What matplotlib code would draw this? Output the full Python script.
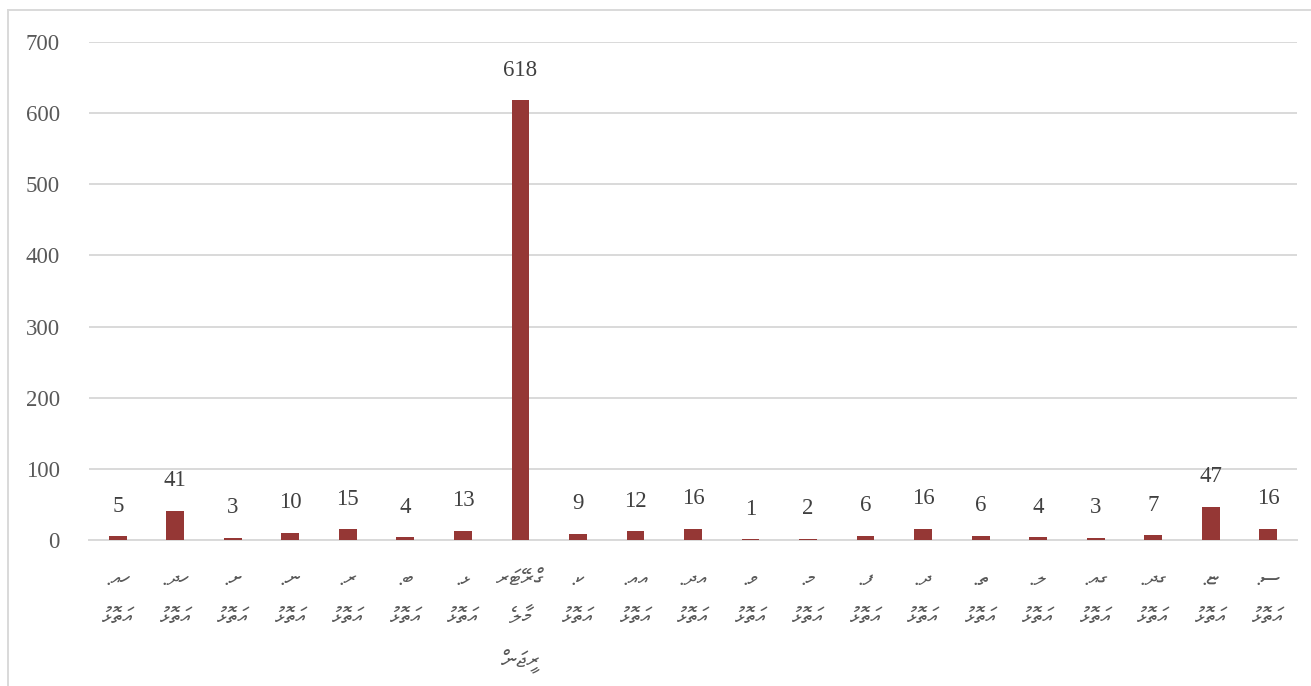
import matplotlib
matplotlib.use("Agg")
import matplotlib.pyplot as plt
from matplotlib import font_manager
from matplotlib.lines import Line2D
import glob, os

# register Thaana-capable fonts that may not be in the cache
for p in glob.glob("/usr/share/fonts/**/*", recursive=True):
    b = os.path.basename(p)
    if b.startswith("NotoSansThaana") or b.startswith("FreeSerif"):
        try:
            font_manager.fontManager.addfont(p)
        except Exception:
            pass

ATOLL = "އަތޮޅު"
codes = ["ހއ.", "ހދ.", "ށ.", "ނ.", "ރ.", "ބ.", "ޅ.", None, "ކ.", "އއ.", "އދ.",
         "ވ.", "މ.", "ފ.", "ދ.", "ތ.", "ލ.", "ގއ.", "ގދ.", "ޏ.", "ސ."]
greater_male = ["ގްރޭޓަރ", "މާލެ", "ރީޖަން"]
values = [5, 41, 3, 10, 15, 4, 13, 618, 9, 12, 16, 1, 2, 6, 16, 6, 4, 3, 7, 47, 16]
yticks = [0, 100, 200, 300, 400, 500, 600, 700]


def rtl(lines):
    # matplotlib lays glyphs out left to right; give it each line in visual order
    return "\n".join(line[::-1] for line in lines)


categories = [rtl(greater_male) if c is None else rtl([c, ATOLL]) for c in codes]

W, H = 1311, 686
fig = plt.figure(figsize=(W / 100, H / 100), dpi=100)
ax = fig.add_axes([89 / W, (H - 540) / H, (1297 - 89) / W, (540 - 42) / H])

x = list(range(len(values)))
ax.bar(x, values, width=0.31, color="#953735", zorder=3)
ax.set_xlim(-0.5, len(values) - 0.5)
ax.set_ylim(0, 700)
ax.set_yticks(yticks)
ax.set_yticklabels([str(t) for t in yticks], family="Liberation Serif",
                   fontsize=16.5, color="#595959")
ax.tick_params(axis="y", length=0, pad=21)
ax.grid(axis="y", color="#d9d9d9", linewidth=1.4, zorder=0)
ax.set_axisbelow(True)
for s in ["left", "right", "top"]:
    ax.spines[s].set_visible(False)
ax.spines["bottom"].set_color("#d9d9d9")
ax.spines["bottom"].set_linewidth(1.4)

ax.set_xticks(x)
ax.set_xticklabels(categories, family=["FreeSerif", "Noto Sans Thaana", "DejaVu Sans"],
                   fontsize=16, color="#595959", linespacing=2.2, va="top")
ax.tick_params(axis="x", length=0, pad=22)

for xi, v in zip(x, values):
    ax.annotate(str(v), (xi, v), xytext=(0, 14), textcoords="offset points",
                ha="center", va="bottom", family="Liberation Serif",
                fontsize=16.5, color="#404040")

# outer frame
fig.add_artist(Line2D([8 / W, 8 / W], [0, 1 - 10 / H], transform=fig.transFigure,
                      color="#d9d9d9", lw=1.4))
fig.add_artist(Line2D([8 / W, 1], [1 - 10 / H, 1 - 10 / H], transform=fig.transFigure,
                      color="#d9d9d9", lw=1.4))

fig.savefig("out.png", dpi=100)
